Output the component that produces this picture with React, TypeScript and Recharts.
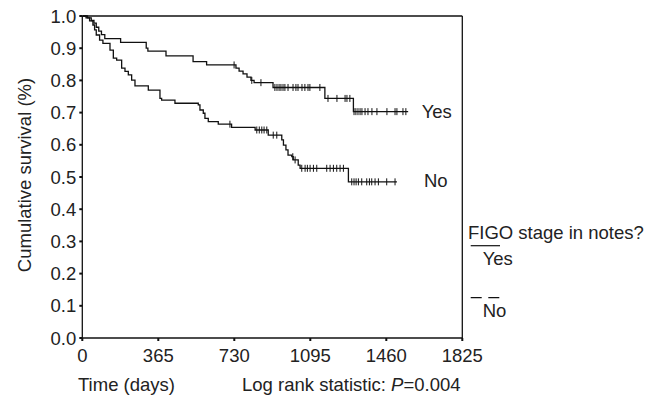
import React from "react";
import { ComposedChart, Line, Scatter, XAxis, YAxis, ReferenceLine } from "recharts";

// Kaplan-Meier step points: [time (days), cumulative survival]
const yesTimes = [0, 25, 43, 56, 67, 79, 92, 108, 184, 307, 315, 402, 532, 597, 738, 753, 772, 791, 810, 825, 916, 1165, 1302, 1565];
const yesSurv = [1, 0.994, 0.986, 0.978, 0.965, 0.953, 0.942, 0.93, 0.918, 0.9, 0.891, 0.876, 0.858, 0.848, 0.838, 0.829, 0.82, 0.81, 0.8, 0.793, 0.778, 0.744, 0.703, 0.703];

const noTimes = [0, 18, 35, 51, 59, 67, 83, 99, 133, 149, 165, 189, 205, 221, 237, 253, 317, 373, 381, 445, 557, 565, 581, 589, 605, 653, 717, 830, 893, 958, 966, 978, 988, 1006, 1013, 1037, 1046, 1278, 1511];
const noSurv = [1, 0.994, 0.985, 0.972, 0.957, 0.941, 0.925, 0.915, 0.894, 0.869, 0.863, 0.838, 0.828, 0.817, 0.801, 0.783, 0.77, 0.744, 0.739, 0.729, 0.724, 0.708, 0.698, 0.682, 0.672, 0.664, 0.654, 0.646, 0.63, 0.615, 0.599, 0.584, 0.568, 0.563, 0.553, 0.537, 0.527, 0.485, 0.485];

// Censored observation times
const yesCensor = [729, 814, 858, 925, 935, 945, 954, 964, 973, 988, 1012, 1026, 1036, 1055, 1069, 1084, 1093, 1141, 1180, 1223, 1262, 1271, 1285, 1305, 1314, 1324, 1334, 1343, 1358, 1372, 1391, 1415, 1463, 1502, 1511, 1540, 1554];
const noCensor = [709, 838, 850, 862, 873, 886, 917, 934, 1011, 1022, 1054, 1070, 1081, 1094, 1110, 1126, 1174, 1190, 1206, 1222, 1238, 1254, 1294, 1305, 1315, 1326, 1342, 1366, 1379, 1390, 1406, 1422, 1462, 1502];

const xTicks = [0, 365, 730, 1095, 1460, 1825];
const yTicks = [0, 0.1, 0.2, 0.3, 0.4, 0.5, 0.6, 0.7, 0.8, 0.9, 1.0];

const toSeries = (ts: number[], ss: number[]) => ts.map((t, i) => ({ t, s: ss[i] }));
const levelAt = (ts: number[], ss: number[], t: number) => {
  let v = ss[0];
  for (let i = 0; i < ts.length; i++) if (ts[i] <= t) v = ss[i];
  return v;
};
const censorSeries = (cs: number[], ts: number[], ss: number[]) => cs.map((t) => ({ t, s: levelAt(ts, ss, t) }));

const yesData = toSeries(yesTimes, yesSurv);
const noData = toSeries(noTimes, noSurv);
const yesC = censorSeries(yesCensor, yesTimes, yesSurv);
const noC = censorSeries(noCensor, noTimes, noSurv);

const INK = "#111";
const TXT = "#222";
const FONT = "'Liberation Sans', Arial, Helvetica, sans-serif";
const FS = 18.5;

const CensorMark = (props: any) => {
  const { cx, cy } = props;
  if (cx == null || cy == null) return null;
  return <line x1={cx} x2={cx} y1={cy - 3.5} y2={cy + 3.5} stroke={INK} strokeWidth={1} />;
};

export default function App() {
  return (
    <div style={{ position: "absolute", left: 0, top: 0, width: 659, height: 399, background: "#fff", fontFamily: FONT }}>
      <ComposedChart width={659} height={399} margin={{ top: 16, right: 196.7, left: 0, bottom: 0 }}>
        <XAxis
          type="number"
          dataKey="t"
          domain={[0, 1825]}
          ticks={xTicks}
          allowDataOverflow
          height={61}
          tickSize={3}
          tickMargin={8}
          axisLine={{ stroke: INK, strokeWidth: 1.3 }}
          tickLine={{ stroke: INK, strokeWidth: 2 }}
          tick={{ fill: TXT, fontSize: FS, fontFamily: FONT }}
        />
        <YAxis
          type="number"
          dataKey="s"
          domain={[0, 1]}
          ticks={yTicks}
          width={82.3}
          tickSize={3}
          tickMargin={3}
          tickFormatter={(v: number) => v.toFixed(1)}
          axisLine={{ stroke: INK, strokeWidth: 1.3 }}
          tickLine={{ stroke: INK, strokeWidth: 2 }}
          tick={{ fill: TXT, fontSize: FS, fontFamily: FONT }}
        />
        <ReferenceLine y={1} stroke={INK} strokeWidth={1.3} />
        <ReferenceLine x={1825} stroke={INK} strokeWidth={1.3} />
        <Line data={yesData} dataKey="s" type="stepAfter" stroke={INK} strokeWidth={1.3} dot={false} isAnimationActive={false} />
        <Line data={noData} dataKey="s" type="stepAfter" stroke={INK} strokeWidth={1.3} dot={false} isAnimationActive={false} />
        <Scatter data={yesC} dataKey="s" shape={CensorMark} isAnimationActive={false} />
        <Scatter data={noC} dataKey="s" shape={CensorMark} isAnimationActive={false} />
      </ComposedChart>
      <svg width={659} height={399} style={{ position: "absolute", left: 0, top: 0, pointerEvents: "none" }}>
        <g fontFamily={FONT} fontSize={FS} fill={TXT}>
          <text transform="translate(24,175) rotate(-90)" textAnchor="middle" dominantBaseline="central">
            Cumulative survival (%)
          </text>
          <text x={78} y={391}>Time (days)</text>
          <text x={242} y={391}>
            Log rank statistic: <tspan fontStyle="italic">P</tspan>=0.004
          </text>
          <text x={421.7} y={118}>Yes</text>
          <text x={424} y={187}>No</text>
          <text x={468} y={238.5}>FIGO stage in notes?</text>
          <text x={482.7} y={265}>Yes</text>
          <text x={482.7} y={317}>No</text>
        </g>
        <line x1={470.7} x2={500} y1={245.7} y2={245.7} stroke={INK} strokeWidth={1.2} />
        <line x1={470.7} x2={500} y1={297.7} y2={297.7} stroke={INK} strokeWidth={1.2} strokeDasharray="11 6.6" />
      </svg>
    </div>
  );
}
